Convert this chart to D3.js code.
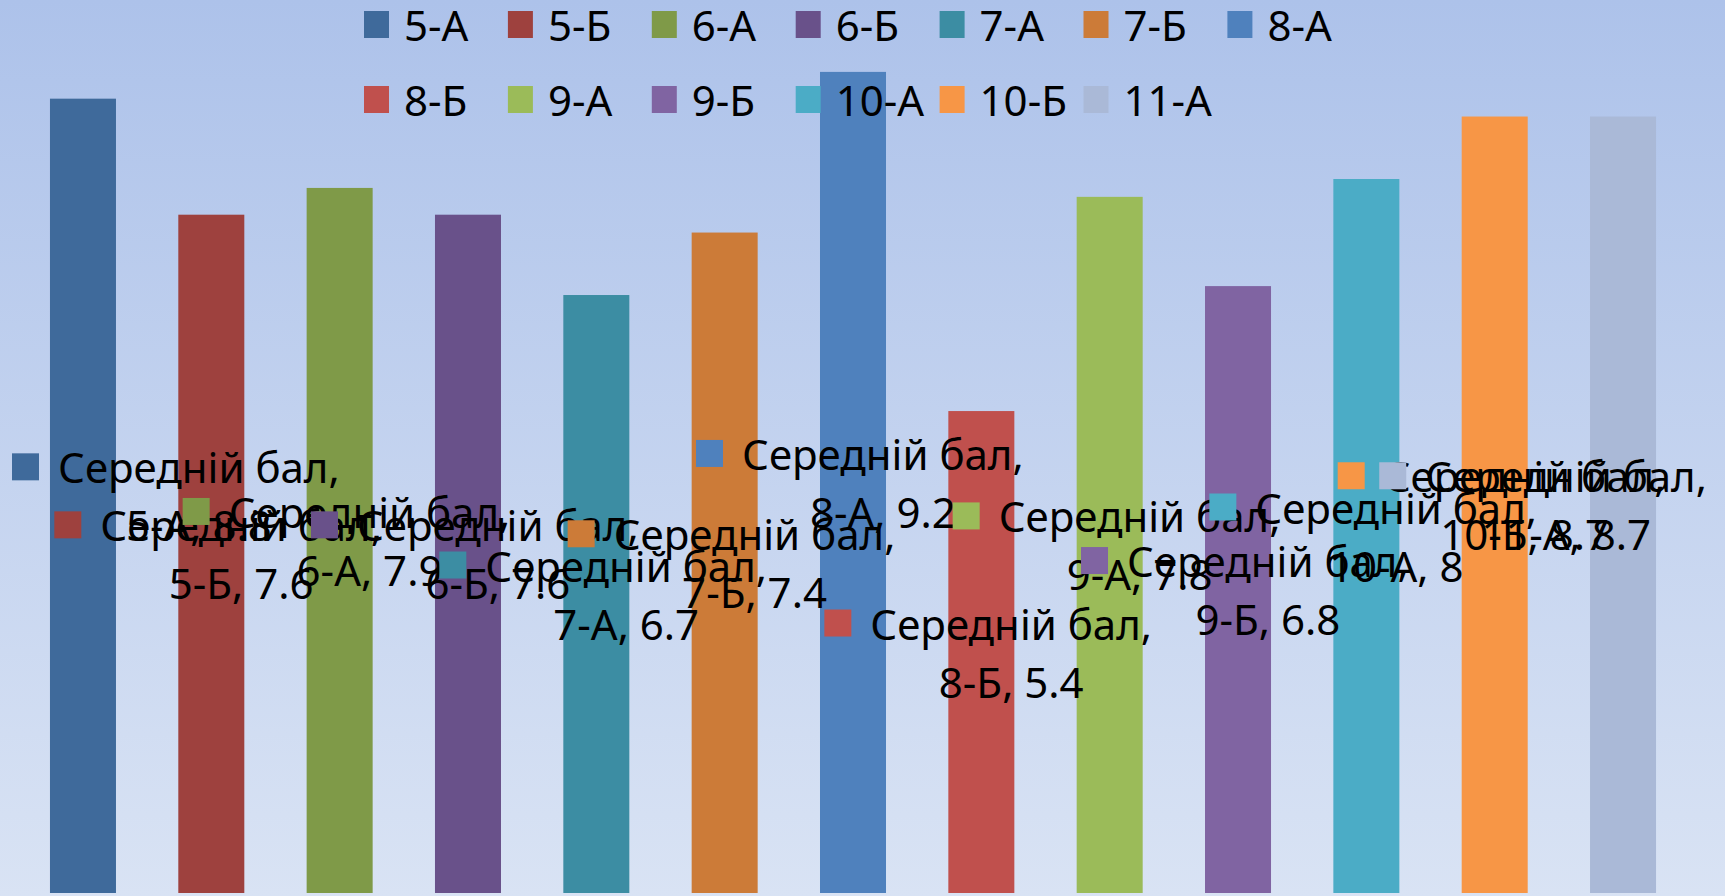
<!DOCTYPE html>
<html>
<head>
<meta charset="utf-8">
<script src="https://cdn.jsdelivr.net/npm/d3@7"></script>
<style>
  html, body { margin: 0; padding: 0; overflow: hidden; background: #fff; }
  svg text { font-family: "Noto Sans", "Open Sans", sans-serif; fill: #000; }
</style>
</head>
<body>
<script>
// ---- data ----
const categoryName = "Середній бал";
const seriesNames = ["5-А", "5-Б", "6-А", "6-Б", "7-А", "7-Б", "8-А", "8-Б", "9-А", "9-Б", "10-А", "10-Б", "11-А"];
// bar heights
const seriesValues = [8.9, 7.6, 7.9, 7.6, 6.7, 7.4, 9.2, 5.4, 7.8, 6.8, 8, 8.7, 8.7];
// values as printed in the data labels
const seriesLabelValues = ["8.8", "7.6", "7.9", "7.6", "6.7", "7.4", "9.2", "5.4", "7.8", "6.8", "8", "8.7", "8.7"];
const seriesColors = ["#3F6A9B", "#9E413E", "#7F9A48", "#69518A", "#3C8DA3", "#CC7B38", "#4F81BD",
                      "#C0504D", "#9BBB59", "#8064A2", "#4BACC6", "#F79646", "#AAB9D7"];
const yDomain = [0, 10];

// ---- layout ----
const W = 1725, H = 896;
const fontSize = 42;

const svg = d3.select("body").append("svg").attr("width", W).attr("height", H);

const defs = svg.append("defs");
const grad = defs.append("linearGradient").attr("id", "bg").attr("x1", 0).attr("y1", 0).attr("x2", 0).attr("y2", 1);
grad.append("stop").attr("offset", "0%").attr("stop-color", "#adc2ea");
grad.append("stop").attr("offset", "100%").attr("stop-color", "#d9e3f4");
svg.append("rect").attr("width", W).attr("height", H).attr("fill", "url(#bg)");

const x = d3.scaleBand().domain(seriesNames).range([18.8, 1687.2]).paddingInner(0.4857).paddingOuter(0.24285);
const y = d3.scaleLinear().domain(yDomain).range([893, 0.5]);

const data = seriesNames.map((n, i) => ({ name: n, value: seriesValues[i], label: seriesLabelValues[i], color: seriesColors[i] }));

// bars
svg.append("g").selectAll("rect").data(data).join("rect")
  .attr("x", d => x(d.name))
  .attr("y", d => y(d.value))
  .attr("width", x.bandwidth())
  .attr("height", d => y(0) - y(d.value))
  .attr("fill", d => d.color);

// legend
const legend = svg.append("g");
const perRow = 7, colStep = 143.9, rowStep = 75, legX = 364, legY = 11, key = 27;
data.forEach((d, i) => {
  const col = i % perRow, row = Math.floor(i / perRow);
  const g = legend.append("g").attr("transform", `translate(${legX + col * colStep},${legY + row * rowStep})`);
  g.append("rect").attr("width", 25).attr("height", key).attr("fill", d.color);
  g.append("text").attr("x", 40).attr("y", 29.5).attr("font-size", fontSize).text(d.name);
});

// data labels (centered in bars, clamped to chart edges)
const labels = svg.append("g");
data.forEach(d => {
  const cx = x(d.name) + x.bandwidth() / 2;
  const mid = y(d.value / 2);
  const g = labels.append("g");
  const t1 = g.append("text").attr("font-size", fontSize).text(categoryName + ",");
  const tw = t1.node().getComputedTextLength();
  let left = cx - 157;
  left = Math.max(12, Math.min(left, 1707 - 46 - tw));
  const markerTop = mid - 42.5;
  g.insert("rect", "text").attr("x", left).attr("y", markerTop).attr("width", key).attr("height", key).attr("fill", d.color);
  t1.attr("x", left + 46).attr("y", markerTop + 30);
  g.append("text").attr("font-size", fontSize)
    .attr("x", left + 46 + tw / 2).attr("y", markerTop + 88)
    .attr("text-anchor", "middle")
    .text(`${d.name}, ${d.label}`);
});
</script>
</body>
</html>
